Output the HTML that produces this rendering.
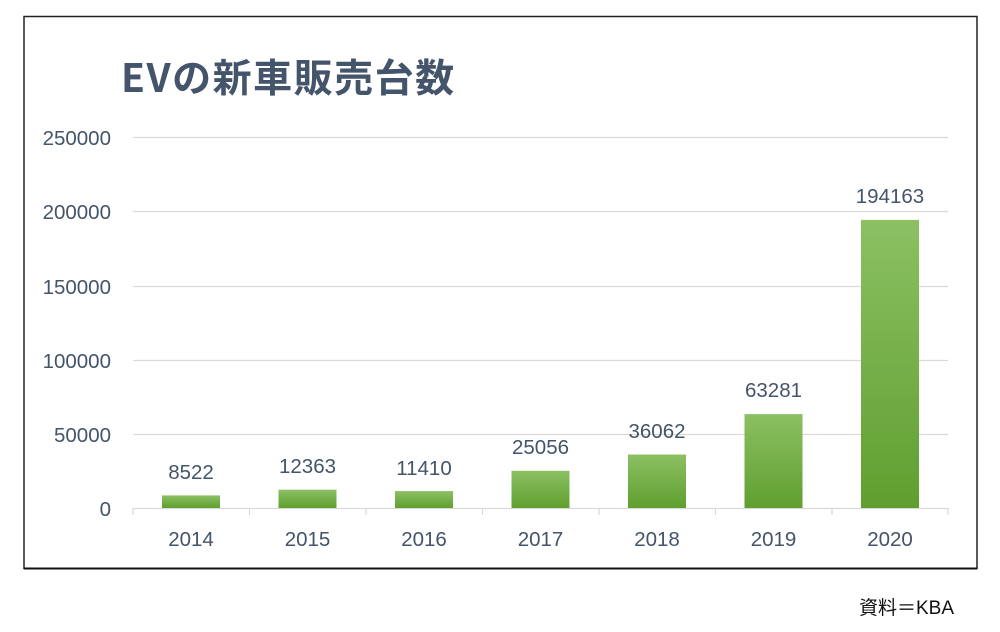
<!DOCTYPE html><html><head><meta charset="utf-8"><style>
body{margin:0;background:#fff;width:1000px;height:627px;overflow:hidden}
</style></head><body>
<svg width="1000" height="627" xmlns="http://www.w3.org/2000/svg" font-family="Liberation Sans, Noto Sans CJK JP, sans-serif">
<defs><linearGradient id="g" x1="0" y1="0" x2="0" y2="1"><stop offset="0" stop-color="#8cc063"/><stop offset="1" stop-color="#5f9f2f"/></linearGradient></defs>
<rect x="24" y="16.5" width="953" height="552" fill="#fff" stroke="#222" stroke-width="1.5"/>
<line x1="24" y1="568.5" x2="977" y2="568.5" stroke="#111" stroke-width="2"/>
<text x="121" y="92" font-size="39" letter-spacing="1.5" font-weight="bold" fill="#44546a" font-family="Noto Sans CJK JP, sans-serif">EVの新車販売台数</text>
<g stroke="#d9d9d9" stroke-width="1.2">
<line x1="133" y1="137.5" x2="948" y2="137.5"/><line x1="133" y1="211.5" x2="948" y2="211.5"/><line x1="133" y1="286.5" x2="948" y2="286.5"/><line x1="133" y1="360.5" x2="948" y2="360.5"/><line x1="133" y1="434.5" x2="948" y2="434.5"/>
<line x1="133" y1="508.5" x2="948" y2="508.5"/>
<line x1="133" y1="508" x2="133" y2="515"/><line x1="249.5" y1="508" x2="249.5" y2="515"/><line x1="366" y1="508" x2="366" y2="515"/><line x1="482.5" y1="508" x2="482.5" y2="515"/><line x1="599" y1="508" x2="599" y2="515"/><line x1="715.5" y1="508" x2="715.5" y2="515"/><line x1="832" y1="508" x2="832" y2="515"/><line x1="948" y1="508" x2="948" y2="515"/>
</g>
<g font-size="20.5" fill="#44546a" text-anchor="end">
<text x="111" y="145">250000</text><text x="111" y="219">200000</text><text x="111" y="294">150000</text><text x="111" y="368">100000</text><text x="111" y="442">50000</text><text x="111" y="516">0</text>
</g>
<g fill="url(#g)">
<rect x="162" y="495.4" width="58" height="12.6"/>
<rect x="278.5" y="489.7" width="58" height="18.3"/>
<rect x="395" y="491.1" width="58" height="16.9"/>
<rect x="511.5" y="470.8" width="58" height="37.2"/>
<rect x="628" y="454.5" width="58" height="53.5"/>
<rect x="744.5" y="414.1" width="58" height="93.9"/>
<rect x="861" y="219.9" width="58" height="288.1"/>
</g>
<g font-size="20.5" fill="#44546a" text-anchor="middle">
<text x="191" y="479">8522</text><text x="307.5" y="473">12363</text><text x="424" y="475">11410</text><text x="540.5" y="454">25056</text><text x="657" y="438">36062</text><text x="773.5" y="397">63281</text><text x="890" y="203">194163</text>
<text x="191" y="546">2014</text><text x="307.5" y="546">2015</text><text x="424" y="546">2016</text><text x="540.5" y="546">2017</text><text x="657" y="546">2018</text><text x="773.5" y="546">2019</text><text x="890" y="546">2020</text>
</g>
<text x="954" y="614" font-size="19" fill="#111" text-anchor="end">資料＝KBA</text>
</svg>
</body></html>
